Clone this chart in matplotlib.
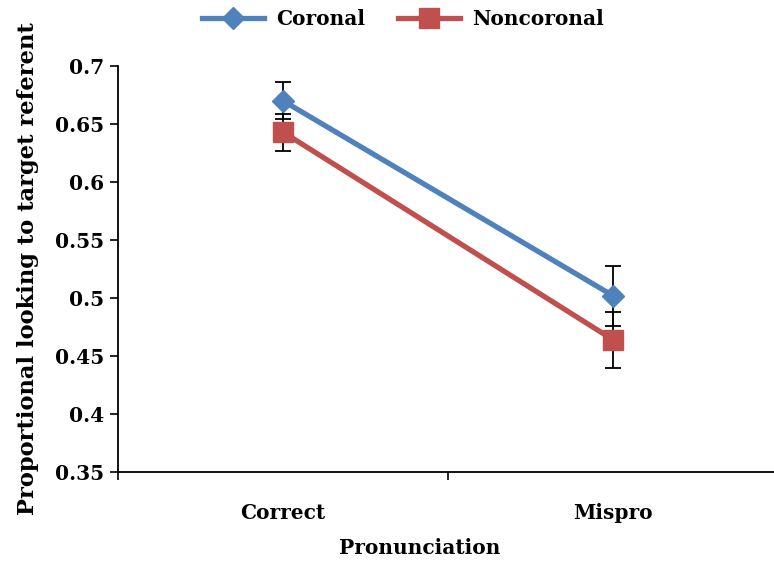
import matplotlib
matplotlib.use("Agg")
import matplotlib.pyplot as plt
from matplotlib.lines import Line2D

categories = ["Correct", "Mispro"]
coronal = [0.670, 0.502]
coronal_err = [0.016, 0.026]
noncoronal = [0.643, 0.464]
noncoronal_err = [0.016, 0.024]
yticks = [0.35, 0.4, 0.45, 0.5, 0.55, 0.6, 0.65, 0.7]
ytick_labels = ["0.35", "0.4", "0.45", "0.5", "0.55", "0.6", "0.65", "0.7"]

BLUE = "#4F81BD"
RED = "#C0504D"
plt.rcParams['font.family'] = ['DejaVu Serif']
plt.rcParams['font.weight'] = 'bold'
FS = 14.5

fig = plt.figure(figsize=(7.74, 5.64), dpi=100)
ax = fig.add_axes([118/774, (564-472)/564, 1 - 118/774, (472-66)/564])

x = list(range(len(categories)))
ax.errorbar(x, coronal, yerr=coronal_err, fmt='none', ecolor='black', elinewidth=1.3, capsize=5.5, capthick=1.3, zorder=1)
ax.errorbar(x, noncoronal, yerr=noncoronal_err, fmt='none', ecolor='black', elinewidth=1.3, capsize=5.5, capthick=1.3, zorder=1)
ax.plot(x, coronal, color=BLUE, lw=3.8, marker='D', ms=11.5, mec=BLUE, mfc=BLUE, zorder=3, label="Coronal")
ax.plot(x, noncoronal, color=RED, lw=3.8, marker='s', ms=14.5, mec=RED, mfc=RED, zorder=3, label="Noncoronal")

ax.set_xlim(-0.5, -0.5 + 656/330)
ax.set_ylim(0.35, 0.7)
ax.set_yticks(yticks)
ax.set_yticklabels(ytick_labels, fontsize=FS, fontweight='bold')
ax.set_xticks([-0.5, 0.5])
ax.set_xticklabels([])
ax.set_xticks(x, minor=True)
ax.set_xticklabels(categories, minor=True, fontsize=FS, fontweight='bold')
ax.tick_params(axis='x', which='minor', length=0, pad=22)
ax.tick_params(axis='x', which='major', length=6, width=1.2, direction='out')
ax.tick_params(axis='y', length=6, width=1.2, direction='out', pad=4)
for s in ['top', 'right']:
    ax.spines[s].set_visible(False)
for s in ['left', 'bottom']:
    ax.spines[s].set_linewidth(1.3)

fig.text(28/774, 1 - 269/564, "Proportional looking to target referent", rotation=90,
         ha='center', va='center', fontsize=16.3, fontweight='bold')
fig.text(420/774, 1 - 548/564, "Pronunciation", ha='center', va='center', fontsize=FS, fontweight='bold')

handles = [Line2D([], [], color=BLUE, lw=3.8, marker='D', ms=11.5),
           Line2D([], [], color=RED, lw=3.8, marker='s', ms=14.5)]
fig.legend(handles, ["Coronal", "Noncoronal"], loc='center', bbox_to_anchor=(403/774, 1 - 19/564),
           ncol=2, frameon=False, handlelength=3.1, columnspacing=1.6, handletextpad=0.6,
           prop={'weight': 'bold', 'size': FS})

fig.savefig("out.png", dpi=100)
